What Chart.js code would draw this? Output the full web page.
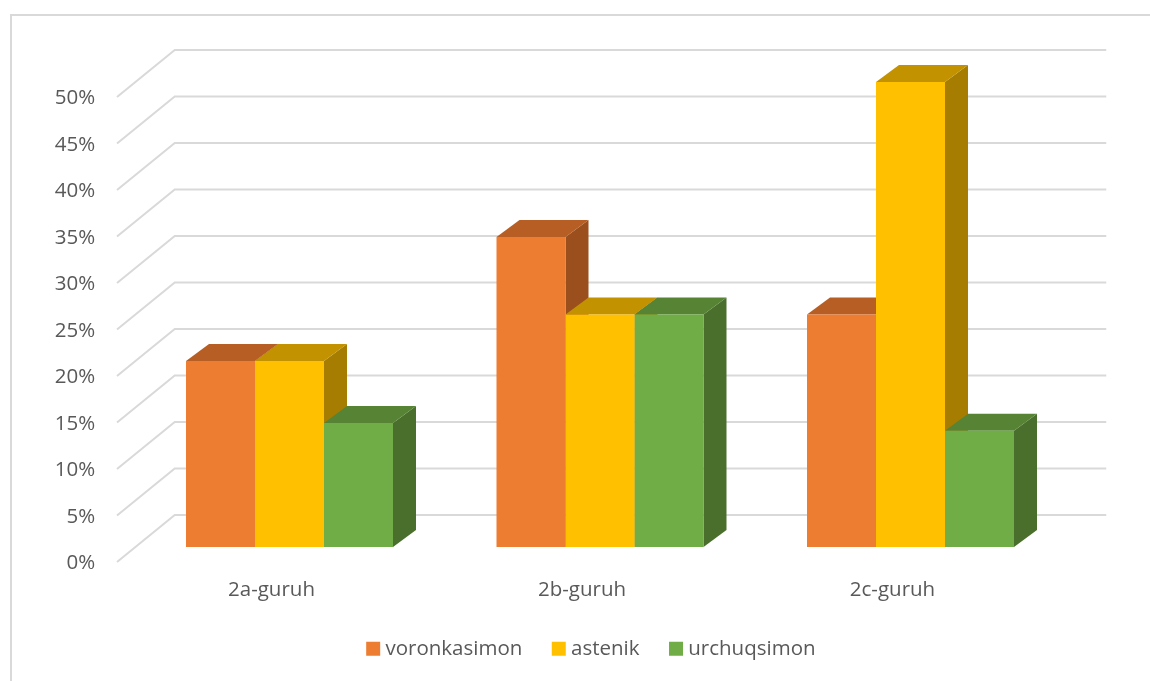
<!DOCTYPE html>
<html>
<head>
<meta charset="utf-8">
<script src="https://cdn.jsdelivr.net/npm/chart.js@4.4.0/dist/chart.umd.min.js"></script>
<style>
  html, body { margin: 0; padding: 0; background: #fff; }
  canvas { display: block; }
</style>
</head>
<body>
<canvas id="chart" width="1150" height="681"></canvas>
<script>
const categories = ["2a-guruh", "2b-guruh", "2c-guruh"];
const voronkasimon = [20, 33.33, 25];
const astenik = [20, 25, 50];
const urchuqsimon = [13.33, 25, 12.5];
const tickLabels = ["0%", "5%", "10%", "15%", "20%", "25%", "30%", "35%", "40%", "45%", "50%"];

const frontColors = ["#ED7D31", "#FFC000", "#70AD47"];
const topColors = ["#B75E24", "#C39200", "#578434"];
const sideColors = ["#9A4F1C", "#A67D00", "#4A6F2C"];
const textColor = "#595959";
const gridColor = "#D9D9D9";
const fontName = "'Open Sans', sans-serif";

// bar depth, and how far the floor runs in front of / behind the bars
const barDepth = { x: 23, y: 17 };
const wallBack = { x: 40.5, y: 32 };
const wallFront = { x: 17.25, y: 15 };
const legendShift = 40.5;

function poly(ctx, pts, color) {
  ctx.fillStyle = color;
  ctx.beginPath();
  ctx.moveTo(pts[0][0], pts[0][1]);
  for (let i = 1; i < pts.length; i++) ctx.lineTo(pts[i][0], pts[i][1]);
  ctx.closePath();
  ctx.fill();
}

const frame3d = {
  id: "frame3d",
  afterLayout(chart) {
    // legend is centred under the picture's floor, not under the chart area
    chart.legend.left += legendShift;
    chart.legend.right += legendShift;
  },
  beforeDraw(chart) {
    const ctx = chart.ctx;
    const { x, y } = chart.scales;
    ctx.save();
    // outer chart border, runs off the right and bottom of the picture
    ctx.strokeStyle = gridColor;
    ctx.lineWidth = 2;
    ctx.strokeRect(11, 15, 1160, 700);
    // back wall and side wall grid lines
    ctx.lineWidth = 2;
    ctx.beginPath();
    tickLabels.forEach((_, i) => {
      const py = y.getPixelForValue(i * 5);
      ctx.moveTo(x.left - wallFront.x, py + wallFront.y);
      ctx.lineTo(x.left + wallBack.x, py - wallBack.y);
      ctx.lineTo(x.right + wallBack.x, py - wallBack.y);
    });
    ctx.stroke();
    ctx.restore();
  },
  beforeDatasetsDraw(chart) {
    const ctx = chart.ctx;
    const base = chart.scales.y.getPixelForValue(0);
    const dx = barDepth.x;
    const dy = barDepth.y;
    // top and side faces, left to right so the nearer series covers the farther
    categories.forEach((_, c) => {
      chart.data.datasets.forEach((ds, d) => {
        const bar = chart.getDatasetMeta(d).data[c];
        const left = bar.x - bar.width / 2;
        const right = bar.x + bar.width / 2;
        poly(ctx, [[right, bar.y], [right + dx, bar.y - dy], [right + dx, base - dy], [right, base]], sideColors[d]);
        poly(ctx, [[left, bar.y], [left + dx, bar.y - dy], [right + dx, bar.y - dy], [right, bar.y]], topColors[d]);
      });
    });
  },
};

new Chart(document.getElementById("chart"), {
  type: "bar",
  data: {
    labels: categories,
    datasets: [
      { label: "voronkasimon", data: voronkasimon, backgroundColor: frontColors[0] },
      { label: "astenik", data: astenik, backgroundColor: frontColors[1] },
      { label: "urchuqsimon", data: urchuqsimon, backgroundColor: frontColors[2] },
    ],
  },
  plugins: [frame3d],
  options: {
    responsive: false,
    animation: false,
    datasets: { bar: { categoryPercentage: 2 / 3, barPercentage: 1, borderWidth: 0 } },
    layout: { padding: { left: 40, right: 84.25, top: 82, bottom: 12 } },
    scales: {
      x: {
        grid: { display: false },
        border: { display: false },
        afterFit(s) { s.height = 57; },
        ticks: {
          color: textColor,
          font: { family: fontName, size: 20.5 },
          padding: 23,
          labelOffset: -18,
          maxRotation: 0,
        },
      },
      y: {
        min: 0,
        max: 50,
        grid: { display: false },
        border: { display: false },
        afterFit(s) { s.width = 94.25; },
        ticks: {
          stepSize: 5,
          autoSkip: false,
          color: textColor,
          font: { family: fontName, size: 20.5 },
          padding: 31,
          labelOffset: 16.5,
          callback: (v) => tickLabels[v / 5],
        },
      },
    },
    plugins: {
      tooltip: { enabled: false },
      legend: {
        position: "bottom",
        labels: {
          color: textColor,
          font: { family: fontName, size: 20.5 },
          usePointStyle: true,
          pointStyle: "rect",
          boxWidth: 4,
          boxHeight: 14,
          padding: 34.5,
        },
      },
    },
  },
});
</script>
</body>
</html>
